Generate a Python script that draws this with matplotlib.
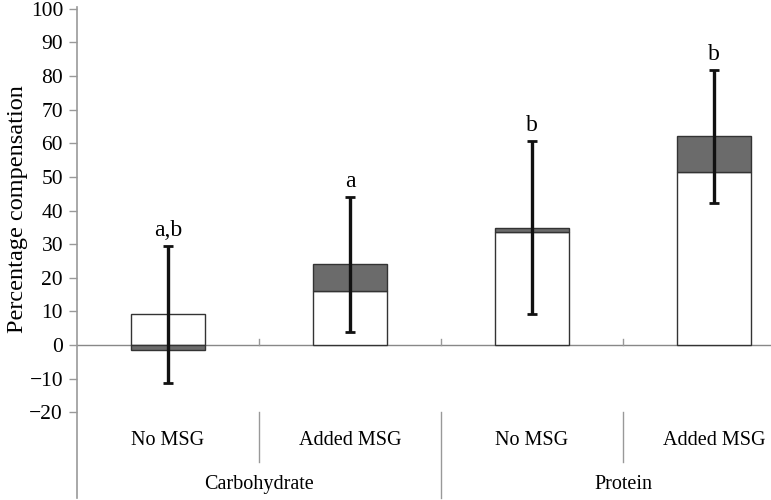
import matplotlib
matplotlib.use("Agg")
import matplotlib.pyplot as plt

plt.rcParams["font.family"] = ["Liberation Serif", "DejaVu Serif"]

# values
sub_labels = ["No MSG", "Added MSG", "No MSG", "Added MSG"]
group_labels = ["Carbohydrate", "Protein"]
white_vals = [9.1, 16.0, 33.5, 51.5]
grey_vals = [-1.5, 8.0, 1.4, 10.6]
err_center = [9.1, 24.0, 35.0, 62.0]
err_half = [20.3, 20.0, 25.8, 19.8]
letters = ["a,b", "a", "b", "b"]

fig = plt.figure(figsize=(7.71, 5.0), dpi=100)
ax = fig.add_axes([77 / 771, 2 / 500, (771 - 77) / 771, 490.5 / 500])

x = list(range(len(white_vals)))
ax.bar(x, white_vals, width=0.41, color="white", edgecolor="#333333", linewidth=1, zorder=2)
grey_bottom = [w if g >= 0 else 0 for w, g in zip(white_vals, grey_vals)]
ax.bar(x, grey_vals, bottom=grey_bottom, width=0.41, color="#6b6b6b",
       edgecolor="#333333", linewidth=1, zorder=3)
ax.errorbar(x, err_center, yerr=err_half, fmt="none", ecolor="#111111",
            elinewidth=2.4, capsize=3.8, capthick=2, zorder=4)
for xi, c, h, t in zip(x, err_center, err_half, letters):
    ax.text(xi, c + h + 3, t, ha="center", va="baseline", fontsize=17)

ax.set_xlim(-0.5, 3.313)
ax.set_ylim(-45.5, 100.4)
ax.set_yticks(range(-20, 101, 10))
ax.set_yticklabels([str(v).replace("-", "\u2212") for v in range(-20, 101, 10)])
ax.tick_params(axis="y", direction="out", length=6, width=1, color="#999999",
               labelsize=15.5, pad=4)
ax.set_xticks([])
for s in ["top", "right", "bottom"]:
    ax.spines[s].set_visible(False)
ax.spines["left"].set_color("#999999")
ax.spines["left"].set_linewidth(1.2)

ax.axhline(0, color="#888888", linewidth=1, zorder=1)
# small ticks on the zero line and category separators below
for b in [0.5, 1.5, 2.5]:
    ax.plot([b, b], [0, 1.8], color="#999999", lw=1, clip_on=False)
for b in [0.5, 2.5]:
    ax.plot([b, b], [-20, -34.8], color="#999999", lw=1, clip_on=False)
ax.plot([1.5, 1.5], [-20, -45.5], color="#999999", lw=1, clip_on=False)

for xi, lab in zip(x, sub_labels):
    ax.text(xi, -28.5, lab, ha="center", va="center", fontsize=14.5)
for gx, lab in zip([0.5, 2.5], group_labels):
    ax.text(gx, -41.6, lab, ha="center", va="center", fontsize=14.5)

fig.text(18 / 771, 1 - 209 / 500, "Percentage compensation", rotation=90,
         ha="center", va="center", fontsize=17.5)

fig.savefig("out.png", dpi=100)
